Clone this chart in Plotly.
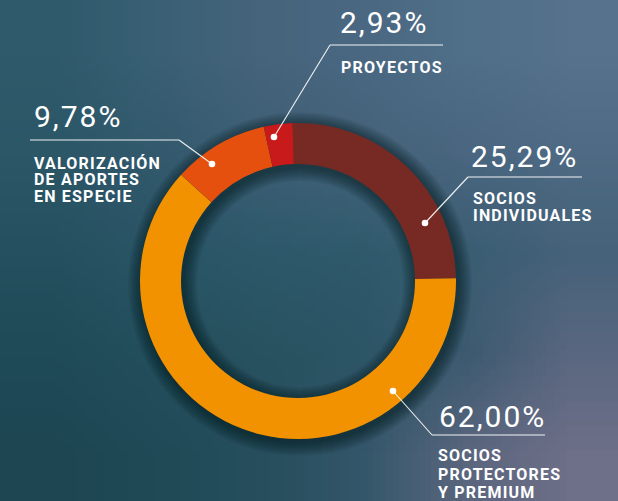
import base64
import struct
import zlib

import plotly.graph_objects as go

# ---------------- data ----------------
categories = ["SOCIOS INDIVIDUALES", "SOCIOS PROTECTORES Y PREMIUM",
              "VALORIZACIÓN DE APORTES EN ESPECIE", "PROYECTOS"]
values = [25.29, 62.00, 9.78, 2.93]
value_labels = ["25,29%", "62,00%", "9,78%", "2,93%"]
label_lines = [["SOCIOS", "INDIVIDUALES"],
               ["SOCIOS", "PROTECTORES", "Y PREMIUM"],
               ["VALORIZACIÓN", "DE APORTES", "EN ESPECIE"],
               ["PROYECTOS"]]
colors = ["#772a23", "#f39200", "#e5500f", "#c8191b"]

# ---------------- geometry helpers ----------------
W, H = 618, 501
CX, CY, R_OUT, R_IN = 298, 281, 158, 117


def px(x):
    return x / W


def py(y):
    return 1 - y / H


# background texture (smooth colour grid, style only)
bg_grid = [
    ["#2e5a6b", "#3a6075", "#46647c", "#4a6882", "#506f89", "#56728c"],
    ["#2b5767", "#33596d", "#3e5f75", "#44637a", "#4a6680", "#4e6a84"],
    ["#24505f", "#2a5566", "#2c586a", "#2f5a6c", "#3a5d72", "#45627a"],
    ["#1f4a57", "#234e5c", "#28525f", "#2c5566", "#3c5a70", "#5a6780"],
    ["#1d4652", "#214a57", "#264e5c", "#34566a", "#5a667e", "#6e6f88"],
]


def png_uri(grid):
    h = len(grid)
    w = len(grid[0])
    raw = b""
    for row in grid:
        raw += b"\x00"
        for c in row:
            raw += bytes(int(c[i:i + 2], 16) for i in (1, 3, 5))

    def chunk(t, d):
        return (struct.pack(">I", len(d)) + t + d
                + struct.pack(">I", zlib.crc32(t + d) & 0xFFFFFFFF))

    png = (b"\x89PNG\r\n\x1a\n"
           + chunk(b"IHDR", struct.pack(">IIBBBBB", w, h, 8, 2, 0, 0, 0))
           + chunk(b"IDAT", zlib.compress(raw))
           + chunk(b"IEND", b""))
    return "data:image/png;base64," + base64.b64encode(png).decode()


fig = go.Figure()

fig.add_trace(go.Pie(
    values=values,
    labels=categories,
    marker=dict(colors=colors, line=dict(width=0)),
    hole=R_IN / R_OUT,
    sort=False,
    direction="clockwise",
    rotation=-2,
    textinfo="none",
    hoverinfo="label+percent",
    showlegend=False,
    domain=dict(x=[px(CX - R_OUT), px(CX + R_OUT)],
                y=[py(CY + R_OUT), py(CY - R_OUT)]),
))

shapes = []
# soft drop shadow of the ring
r_mid = (R_OUT + R_IN) / 2
ring_w = R_OUT - R_IN
for d in range(14, 0, -1):
    sx, sy = CX + 2, CY + 3
    shapes.append(dict(
        type="circle", xref="paper", yref="paper", layer="below",
        x0=px(sx - r_mid), x1=px(sx + r_mid),
        y0=py(sy + r_mid), y1=py(sy - r_mid),
        line=dict(color="rgba(8,22,30,0.045)", width=ring_w + 2 * d),
        fillcolor="rgba(0,0,0,0)",
    ))

# leader lines: (underline x0, x1, y), leader end dot (x, y)
leaders = [
    ((468, 582, 177), (425, 223)),  # socios individuales
    ((432, 545, 435), (393, 391)),  # protectores
    ((30, 179, 140), (212, 164)),   # valorizacion
    ((330, 443, 45), (274, 137)),   # proyectos
]
start_side = ["left", "left", "right", "left"]
line_col = "rgba(255,255,255,0.92)"
for i, ((ux0, ux1, uy), (dx, dy)) in enumerate(leaders):
    shapes.append(dict(type="line", xref="paper", yref="paper", layer="above",
                       x0=px(ux0), x1=px(ux1), y0=py(uy), y1=py(uy),
                       line=dict(color=line_col, width=1.1)))
    sx = ux0 if start_side[i] == "left" else ux1
    shapes.append(dict(type="line", xref="paper", yref="paper", layer="above",
                       x0=px(sx), x1=px(dx), y0=py(uy), y1=py(dy),
                       line=dict(color=line_col, width=1.1)))
    rr = 3.3
    shapes.append(dict(type="circle", xref="paper", yref="paper", layer="above",
                       x0=px(dx - rr), x1=px(dx + rr), y0=py(dy + rr), y1=py(dy - rr),
                       fillcolor="white", line=dict(width=0)))

# text positions: value (left x, cap-centre y); label block (left x, cap-top y, line pitch)
text_pos = [
    (469, 156, 471, 191.5, 16.7),
    (437, 416, 436, 448.3, 18.5),
    (32, 116, 32, 156.5, 16.4),
    (338, 22.5, 339, 60.5, 16.4),
]
LABEL_SIZE = 16

annotations = []
for i, (vx, vy, lx, ly, pitch) in enumerate(text_pos):
    annotations.append(dict(
        xref="paper", yref="paper", x=px(vx), y=py(vy),
        xanchor="left", yanchor="middle", showarrow=False,
        text='<span style="letter-spacing:2px">' + value_labels[i] + "</span>",
        font=dict(family="Roboto", size=30, color="white"),
    ))
    block = "<br>".join(
        '<span style="font-size:%dpx;letter-spacing:1.2px">%s</span>' % (LABEL_SIZE, t)
        for t in label_lines[i])
    annotations.append(dict(
        xref="paper", yref="paper", x=px(lx), y=py(ly - 4.5),
        xanchor="left", yanchor="top", showarrow=False, align="left",
        text=block,
        font=dict(family="Roboto", size=pitch / 1.3, color="white", weight=700),
    ))

fig.update_layout(
    width=W, height=H,
    margin=dict(l=0, r=0, t=0, b=0),
    paper_bgcolor="#2d5a6c",
    plot_bgcolor="rgba(0,0,0,0)",
    images=[dict(source=png_uri(bg_grid), xref="paper", yref="paper",
                 x=0, y=1, sizex=1, sizey=1, xanchor="left", yanchor="top",
                 sizing="stretch", layer="below")],
    shapes=shapes,
    annotations=annotations,
)

fig.write_html("out.html",
               config={"displayModeBar": False},
               post_script="document.body.style.margin='0';"
                           "document.body.style.overflow='hidden';")
